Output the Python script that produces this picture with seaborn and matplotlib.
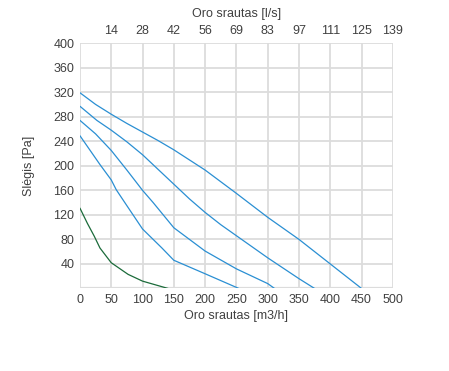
import matplotlib
matplotlib.use("Agg")
import matplotlib.pyplot as plt
import numpy as np
import pandas as pd
import seaborn as sns

sns.set_style("whitegrid")
plt.rcParams['font.family'] = ['Liberation Sans', 'DejaVu Sans']

# curve points: flow [m3/h], pressure [Pa]
c1_q = [0, 25, 50, 75, 100, 125, 150, 200, 250, 300, 350, 400, 450]
c1_p = [319, 300, 284, 269, 255, 241, 226, 193, 155, 116, 80, 40, 0]
c2_q = [0, 27, 50, 75, 100, 125, 150, 175, 200, 225, 250, 300, 350, 375]
c2_p = [297, 274, 258, 239, 218, 194, 170, 146, 124, 104, 86, 50, 16, 0]
c3_q = [0, 25, 50, 75, 100, 117, 150, 200, 250, 300, 311]
c3_p = [274, 252, 225, 193, 160, 140, 99, 61, 32, 8, 0]
c4_q = [0, 32, 50, 58, 75, 100, 131, 150, 200, 254]
c4_p = [249, 202, 177, 161, 135, 97, 66, 46, 24, 0]
c5_q = [0, 12, 23, 32, 50, 77, 100, 141]
c5_p = [131, 106, 85, 66, 42, 23, 12, 0]

top_ticks = [50, 100, 150, 200, 250, 300, 350, 400, 450, 500]
top_labels = ["14", "28", "42", "56", "69", "83", "97", "111", "125", "139"]

blue = "#2a8fd3"
green = "#1b6b3a"
curves = [(c1_q, c1_p, blue), (c2_q, c2_p, blue), (c3_q, c3_p, blue),
          (c4_q, c4_p, blue), (c5_q, c5_p, green)]

fig = plt.figure(figsize=(4.49, 3.71), dpi=100)
ax = fig.add_axes([0.178, 0.2224, 0.697, 0.6616])

for q, p, col in curves:
    df = pd.DataFrame({"q": q, "p": p})
    sns.lineplot(data=df, x="q", y="p", ax=ax, color=col, lw=0.9, sort=False)

ax.set_xlim(0, 500)
ax.set_ylim(0, 400)
ax.set_xticks(range(0, 501, 50))
ax.set_yticks(range(40, 401, 40))
ax.grid(True, color="#dcdcdc", lw=1.3)
for s in ax.spines.values():
    s.set_visible(False)
ax.axhline(0, color="#dcdcdc", lw=1.6, zorder=0.5)
ax.tick_params(labelsize=9, colors="#404040", length=0, pad=4)
ax.set_xlabel("Oro srautas [m3/h]", fontsize=9, color="#404040", labelpad=3)
ax.set_ylabel("Slėgis [Pa]", fontsize=9, color="#404040", labelpad=13)

ax2 = ax.twiny()
ax2.set_xlim(0, 500)
ax2.set_xticks(top_ticks)
ax2.set_xticklabels(top_labels)
ax2.grid(False)
for s in ax2.spines.values():
    s.set_visible(False)
ax2.tick_params(labelsize=9, colors="#404040", length=0, pad=4)
ax2.set_xlabel("Oro srautas [l/s]", fontsize=9, color="#404040", labelpad=6)

fig.savefig("out.png", dpi=100)
